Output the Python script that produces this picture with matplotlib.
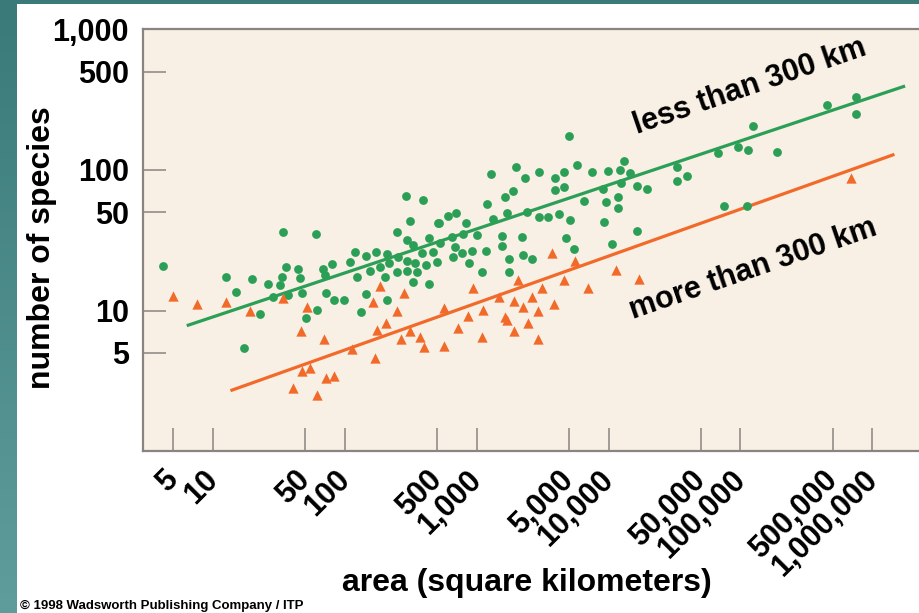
import matplotlib
matplotlib.use("Agg")
import matplotlib.pyplot as plt
import numpy as np
from matplotlib.patches import Rectangle
from matplotlib.transforms import ScaledTranslation
from matplotlib.colors import LinearSegmentedColormap

plt.rcParams['font.family'] = ['Liberation Sans', 'DejaVu Sans']
plt.rcParams['font.weight'] = 'bold'
plt.rcParams['axes.labelweight'] = 'bold'

# ---------------- data ----------------
green_area = [4.2, 12.6, 15.1, 19.9, 26.3, 22.8, 17.3, 33.8, 60.2, 35.8,
              33.2, 32.3, 28.7, 37.3, 44.4, 45.7, 47.1, 50.5, 61.2, 68,
              70.8, 79.6, 71.6, 82.8, 99, 109, 119, 123, 144, 144,
              155, 172, 132, 185, 208, 202, 210, 217, 247, 291,
              394, 312, 295, 331, 255, 295, 247, 295, 331, 341,
              351, 413, 433, 437, 385, 464, 498, 512,
              5010, 1277, 1977, 2323, 2967, 3926, 4592, 5728, 7520, 9840,
              12200, 13090, 14530, 3900, 4613, 1895, 1631, 1191, 1688, 1322,
              2420, 2967, 3473, 4228, 5097, 6545, 9120, 9510, 11780, 11780,
              12480, 16330, 19450, 32810, 39080, 33190, 67900, 9270, 16510, 10670,
              5495, 4730, 2218, 1564, 1549, 1170, 2255, 2624, 1767, 1758,
              1091, 926, 879, 778, 665, 684, 1000, 791, 646, 830,
              697, 609, 520, 527,
              450800, 746500, 746500, 125000, 95200, 114600, 188000, 75000, 111400]
green_species = [20.8, 17.3, 13.5, 16.7, 15.4, 9.4, 5.4, 36.2, 34.8, 20.5,
                 17.4, 15.2, 12.4, 12.9, 19.8, 16.9, 13.4, 8.8, 10.1, 19.6,
                 17.9, 21.4, 13.3, 11.9, 11.9, 22.2, 25.9, 17.4, 24.3, 13.2,
                 19.2, 26.1, 9.8, 20.3, 11.9, 17.4, 25.1, 21.9, 36.2, 65.2,
                 60.8, 43.5, 31.7, 29.2, 23.9, 22.6, 18.9, 19.2, 16.0, 21.7,
                 18.9, 21.0, 32.6, 15.4, 25.5, 26.1, 22.2, 42.1,
                 174, 93.5, 105, 87.1, 96.1, 88.1, 96.1, 108, 96.1, 98.2,
                 99.8, 116, 95.5, 71.9, 76, 71.1, 64.5, 56.9, 49.1, 44.8,
                 49.9, 46, 46, 48.3, 44, 60.4, 72.8, 58.9, 64.5, 53.8,
                 80.3, 76.8, 72.8, 105, 90.5, 83.4, 131, 42.8, 36.9, 29.7,
                 27.3, 32.6, 33.5, 34, 28.7, 26.5, 24.8, 23.1, 23.1, 18.8,
                 18.7, 26.5, 21.7, 25.5, 24.1, 28.4, 34.6, 34.8, 33.5, 41.7,
                 49.1, 47, 41.7, 30.1,
                 290, 328, 250, 205, 145, 139, 133, 55.4, 55.4]

orange_area = [4.96, 7.54, 12.6, 19.1, 33.8, 51.4, 46.3, 69.6, 185, 281,
               164, 247, 205, 175, 113, 170, 267, 312, 372, 399,
               47.1, 54.5, 40.3, 71.6, 83.3, 61.2,
               3706, 5560, 11320, 17000, 7020, 4590, 3143, 2068, 943, 1484,
               1928, 2255, 2612, 2900, 3875, 2436, 1928, 2931, 1122, 864,
               565, 726, 1091, 565, 1640, 1707, 688500]
orange_species = [12.7, 11.1, 11.4, 9.9, 12.3, 10.6, 7.2, 6.3, 15.0, 13.3,
                  11.4, 9.9, 8.2, 7.3, 5.3, 4.6, 6.3, 7.1, 6.5, 5.5,
                  3.7, 3.9, 2.8, 3.3, 3.4, 2.5,
                  25.8, 22.5, 19.4, 16.8, 14.4, 16.5, 14.4, 16.5, 14.4, 12.5,
                  11.6, 10.6, 12.5, 9.9, 11.1, 8.2, 7.2, 6.3, 10.1, 9.1,
                  10.5, 7.5, 6.5, 5.6, 9.0, 8.6, 87.1]

green_fit_area = [6.34, 1.77e6]
green_fit_species = [7.8, 395]
orange_fit_area = [13.6, 1.47e6]
orange_fit_species = [2.69, 129]

x_ticks = [5, 10, 50, 100, 500, 1000, 5000, 10000, 50000, 100000, 500000, 1000000]
x_tick_labels = ['5', '10', '50', '100', '500', '1,000', '5,000', '10,000',
                 '50,000', '100,000', '500,000', '1,000,000']
y_ticks = [5, 10, 50, 100, 500, 1000]
y_tick_labels = ['5', '10', '50', '100', '500', '1,000']

label_less = 'less than 300 km'
label_more = 'more than 300 km'
label_less_pos = (118000, 389)
label_more_pos = (125700, 19.7)

# ---------------- styling ----------------
GREEN = '#2c9f57'
ORANGE = '#f26a2a'
BEIGE = '#f8efe5'
SPINE = '#8a8480'
TEAL_DARK = '#3a7a79'
TEAL_LIGHT = '#5e9d9b'

W, H = 919, 613
fig = plt.figure(figsize=(W / 100, H / 100), dpi=100)
fig.patch.set_facecolor('white')

# teal frame
strip = fig.add_axes([0, 0, 17 / W, 1])
grad = np.linspace(0, 1, 256).reshape(-1, 1)
cmap = LinearSegmentedColormap.from_list('teal', [TEAL_DARK, TEAL_LIGHT])
strip.imshow(grad, aspect='auto', cmap=cmap, extent=[0, 1, 0, 1], origin='upper')
strip.set_axis_off()
fig.patches.append(Rectangle((0, 1 - 4 / H), 1, 4 / H, transform=fig.transFigure,
                             facecolor=TEAL_DARK, edgecolor='none', zorder=5))

left_px, right_px, top_px, bottom_px = 143.3, 935.3, 29.3, 451.1
ax = fig.add_axes([left_px / W, 1 - bottom_px / H,
                   (right_px - left_px) / W, (bottom_px - top_px) / H])
ax.set_facecolor(BEIGE)
ax.set_xscale('log')
ax.set_yscale('log')
ax.set_xlim(2.97, 3e6)
ax.set_ylim(1, 1000)

ax.plot(green_fit_area, green_fit_species, color=GREEN, lw=2.3, zorder=2,
        solid_capstyle='butt')
ax.plot(orange_fit_area, orange_fit_species, color=ORANGE, lw=2.3, zorder=2,
        solid_capstyle='butt')
ax.scatter(green_area, green_species, s=40, c=GREEN, marker='o', linewidths=0, zorder=3)
ax.scatter(orange_area, orange_species, s=55, c=ORANGE, marker='^', linewidths=0, zorder=3)

for sp in ['top', 'left', 'bottom']:
    ax.spines[sp].set_color(SPINE)
    ax.spines[sp].set_linewidth(1.6)
ax.spines['right'].set_visible(False)

ax.set_xticks(x_ticks, labels=x_tick_labels)
ax.set_yticks(y_ticks, labels=y_tick_labels)
ax.minorticks_off()
ax.tick_params(axis='both', which='major', direction='in', length=16.5, width=1.1,
               color=SPINE, labelsize=22, labelcolor='black', top=False, right=False)
ax.tick_params(axis='y', pad=10.5)
ax.tick_params(axis='x', pad=10)

offset = ScaledTranslation(0.11, 0, fig.dpi_scale_trans)
for lab in ax.get_xticklabels():
    lab.set_rotation(45)
    lab.set_ha('right')
    lab.set_va('top')
    lab.set_transform(lab.get_transform() + offset)

ax.set_xlabel('area (square kilometers)', fontsize=23, fontweight='bold')
ax.xaxis.set_label_coords(526.7 / W, 1 - 583 / H, transform=fig.transFigure)
ax.xaxis.label.set_va('center')
ax.set_ylabel('number of species', fontsize=23, fontweight='bold')
ax.yaxis.set_label_coords(42 / W, 1 - 248 / H, transform=fig.transFigure)
ax.yaxis.label.set_va('center')

ax.text(*label_less_pos, label_less, rotation=19, rotation_mode='anchor',
        ha='center', va='center', fontsize=22, color='black', zorder=4)
ax.text(*label_more_pos, label_more, rotation=19, rotation_mode='anchor',
        ha='center', va='center', fontsize=22, color='black', zorder=4)

fig.text(20 / W, 1.5 / H, '\u00a9 1998 Wadsworth Publishing Company / ITP',
         fontsize=9.5, ha='left', va='bottom', color='black')

fig.savefig('out.png', dpi=100, facecolor=fig.get_facecolor())
